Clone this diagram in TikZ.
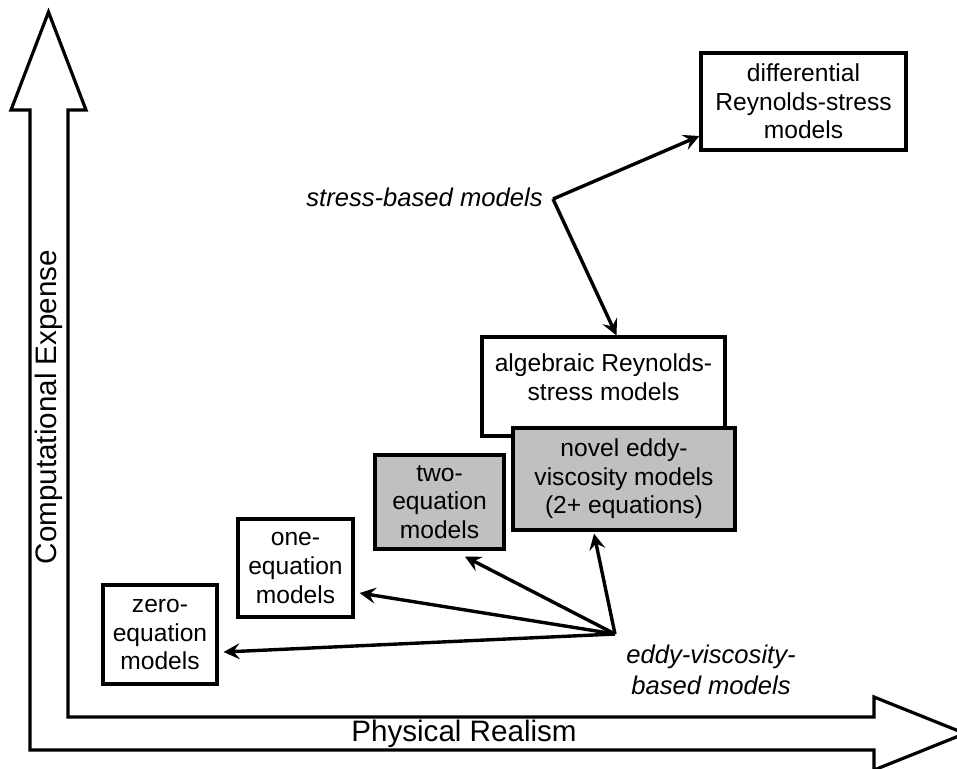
\documentclass[tikz,border=0pt]{standalone}
\usepackage{fontspec}
\setmainfont{Liberation Sans}
\usepackage{xcolor}
\usepackage{tikz}
\usetikzlibrary{calc,arrows.meta}
\definecolor{boxg}{HTML}{C0C0C0}
\tikzset{
  ar/.style={-{Stealth[length=8pt,width=8pt,inset=3pt]},line width=1.7pt},
  box/.style={draw,line width=1.6pt,fill=white,align=center,inner sep=0pt,font=\fontsize{12.3}{14.3}\selectfont},
  gbox/.style={box,fill=boxg},
  lab/.style={align=center,inner sep=0pt,font=\fontsize{12.8}{15.5}\selectfont\itshape},
  axl/.style={inner sep=0pt,font=\fontsize{14.8}{17}\selectfont}
}
\begin{document}
\begin{tikzpicture}[x=0.5pt,y=-0.5pt]
\useasboundingbox (0,0) rectangle (957,768);
\clip (0,0) rectangle (957,768);
\draw[line width=1.6pt] (30,750) -- (874,750) -- (874,770) -- (965,733.5) -- (874,697) -- (874,717)
  -- (68,717) -- (68,110) -- (86,110) -- (48.5,12) -- (11,110) -- (30,110) -- cycle;
\node[axl,rotate=90] (cexp) at (48.5,407) {Computational Expense};
\node[axl] (preal) at (464,733.5) {Physical Realism};
\node[box,minimum width=102.5pt,minimum height=48.5pt] (diff) at (803.5,101.5) {differential\\Reynolds-stress\\models};
\node[box,minimum width=121.5pt,minimum height=49.5pt,text depth=9.5pt] (alg) at (603.5,386.5) {algebraic Reynolds-\\stress models};
\node[gbox,minimum width=111pt,minimum height=51pt] (novel) at (624,479) {novel eddy-\\viscosity models\\(2+ equations)};
\node[gbox,minimum width=64.5pt,minimum height=47pt] (two) at (439.5,502) {two-\\equation\\models};
\node[box,minimum width=57.5pt,minimum height=49pt] (one) at (295.5,568) {one-\\equation\\models};
\node[box,minimum width=57pt,minimum height=49.5pt] (zero) at (160,634.5) {zero-\\equation\\models};
\node[lab,anchor=east] (sbm) at (543,197) {stress-based models};
\coordinate (sb) at (553,199);
\node[lab] (evm) at (711,670) {eddy-viscosity-\\based models};
\coordinate (ev) at (615,634);
\draw[ar] (sb) -- ($(diff.west)+(0,34.5)$);
\draw[ar] (sb) -- ($(alg.north)+(13,0)$);
\draw[ar] (ev) -- ($(novel.south)+(-30,2)$);
\draw[ar] (ev) -- ($(two.south)+(25.5,6)$);
\draw[ar] (ev) -- ($(one.east)+(5,25)$);
\draw[ar] (ev) -- ($(zero.east)+(5,17.5)$);
\end{tikzpicture}
\end{document}
